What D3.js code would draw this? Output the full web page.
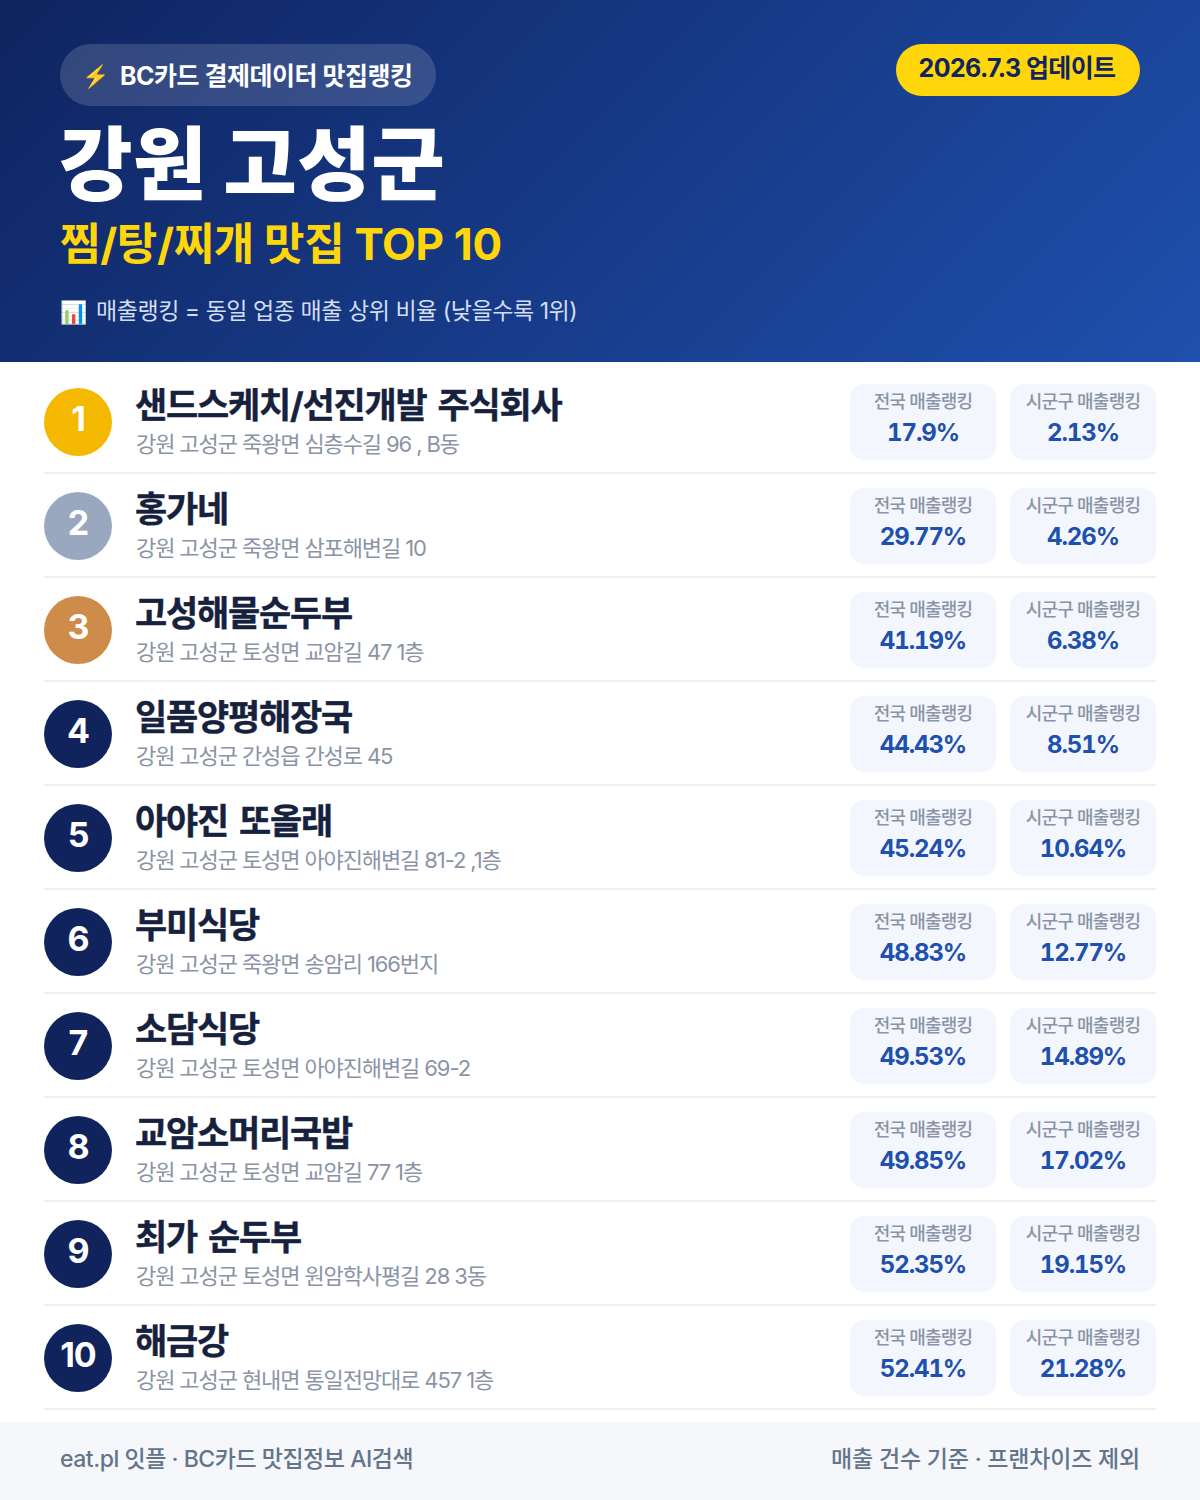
<!DOCTYPE html>
<html lang="ko"><head><meta charset="utf-8">
<script src="https://cdnjs.cloudflare.com/ajax/libs/d3/7.8.5/d3.min.js"></script>
<style>
html,body{margin:0;padding:0;background:#fff}
svg{display:block}
text{font-family:Inter,"Noto Sans CJK KR","Noto Sans",sans-serif}
.val{font-variant-numeric:tabular-nums}
.name{word-spacing:4px}
</style></head><body><div id="c"></div>
<script>
const ranks=[1,2,3,4,5,6,7,8,9,10];
const names=["샌드스케치/선진개발 주식회사","홍가네","고성해물순두부","일품양평해장국","아야진 또올래","부미식당","소담식당","교암소머리국밥","최가 순두부","해금강"];
const addresses=["강원 고성군 죽왕면 심층수길 96 , B동","강원 고성군 죽왕면 삼포해변길 10","강원 고성군 토성면 교암길 47 1층","강원 고성군 간성읍 간성로 45","강원 고성군 토성면 아야진해변길 81-2 ,1층","강원 고성군 죽왕면 송암리 166번지","강원 고성군 토성면 아야진해변길 69-2","강원 고성군 토성면 교암길 77 1층","강원 고성군 토성면 원암학사평길 28 3동","강원 고성군 현내면 통일전망대로 457 1층"];
const national=["17.9%","29.77%","41.19%","44.43%","45.24%","48.83%","49.53%","49.85%","52.35%","52.41%"];
const local=["2.13%","4.26%","6.38%","8.51%","10.64%","12.77%","14.89%","17.02%","19.15%","21.28%"];
const badgeColors=["#f5b800","#9aa8bf","#cd8c4a"];
const defaultBadge="#10235c";

const W=1200,H=1500;
const svg=d3.select("#c").append("svg").attr("width",W).attr("height",H).attr("viewBox",`0 0 ${W} ${H}`);
const g=svg.append("defs").append("linearGradient").attr("id","hd").attr("gradientUnits","userSpaceOnUse")
 .attr("x1",209.5).attr("y1",-209.5).attr("x2",990.5).attr("y2",571.5);
g.append("stop").attr("offset",0).attr("stop-color","#0f2460");
g.append("stop").attr("offset",1).attr("stop-color","#1e50ad");
svg.append("rect").attr("width",W).attr("height",362).attr("fill","url(#hd)");

function T(p,x,y,s,size,weight,fill,ls,anchor){
 return p.append("text").attr("x",x).attr("y",y).attr("font-size",size).attr("font-weight",weight)
  .attr("fill",fill).attr("letter-spacing",ls||0).attr("text-anchor",anchor||"start").text(s);
}
// header
svg.append("rect").attr("x",60).attr("y",44).attr("width",376).attr("height",62).attr("rx",31).attr("fill","#fff").attr("fill-opacity",.15);
T(svg,82,84,"⚡",22,400,"#f5b800");
T(svg,120,85,"BC카드 결제데이터 맛집랭킹",25,700,"#fff",-0.5);
svg.append("rect").attr("x",896).attr("y",44).attr("width",244).attr("height",52).attr("rx",26).attr("fill","#ffd60a");
T(svg,1017,77,"2026.7.3 업데이트",25,700,"#0f2460",-0.6,"middle");
T(svg,59,193,"강원 고성군",80,900,"#fff",0.4);
T(svg,60,260,"찜/탕/찌개 맛집 TOP 10",44,700,"#ffd60a",-0.35);
T(svg,60,320,"📊",22,400,"#fff");
T(svg,96,319,"매출랭킹 = 동일 업종 매출 상위 비율 (낮을수록 1위)",23,400,"#d3def2",-0.45);

// rows
const y=d3.scalePoint().domain(ranks).range([422,1358]);
const rows=svg.selectAll("g.row").data(ranks.map((r,i)=>({r,i}))).join("g").attr("class","row")
 .attr("transform",d=>`translate(0,${y(d.r)})`);
rows.append("rect").attr("x",44).attr("y",50).attr("width",1112).attr("height",2).attr("fill","#eef0f3");
rows.append("circle").attr("cx",78).attr("cy",0).attr("r",34).attr("fill",d=>badgeColors[d.i]||defaultBadge);
rows.append("text").attr("x",78).attr("y",9).attr("text-anchor","middle").attr("font-size",34).attr("font-weight",700).attr("fill","#fff").attr("letter-spacing",-1).text(d=>d.r);
rows.append("text").attr("class","name").attr("x",135).attr("y",-4).attr("font-size",35).attr("font-weight",700).attr("fill","#16213e").attr("stroke","#16213e").attr("stroke-width",0.4).attr("letter-spacing",-1.2).text(d=>names[d.i]);
rows.append("text").attr("x",136).attr("y",30).attr("font-size",22).attr("font-weight",400).attr("fill","#8a94a6").attr("letter-spacing",-1.1).text(d=>addresses[d.i]);
const stats=[{x:850,w:146,label:"전국 매출랭킹",vals:national},{x:1010,w:146,label:"시군구 매출랭킹",vals:local}];
stats.forEach(s=>{
 rows.append("rect").attr("x",s.x).attr("y",-38).attr("width",s.w).attr("height",76).attr("rx",14).attr("fill","#f3f6fc");
 rows.append("text").attr("x",s.x+s.w/2).attr("y",-14).attr("text-anchor","middle").attr("font-size",18).attr("font-weight",500).attr("fill","#8a94a6").attr("letter-spacing",-0.8).text(s.label);
 rows.append("text").attr("class","val").attr("x",s.x+s.w/2).attr("y",19).attr("text-anchor","middle").attr("font-size",24).attr("font-weight",700).attr("fill","#1e50ad").attr("letter-spacing",-1.1).text(d=>s.vals[d.i]);
});
// footer
svg.append("rect").attr("x",0).attr("y",1422).attr("width",W).attr("height",78).attr("fill","#f5f7fb");
T(svg,60,1467,"eat.pl 잇플 · BC카드 맛집정보 AI검색",23,500,"#64748b",-0.47);
T(svg,1140,1467,"매출 건수 기준 · 프랜차이즈 제외",23,500,"#64748b",-0.2,"end");
</script></body></html>
